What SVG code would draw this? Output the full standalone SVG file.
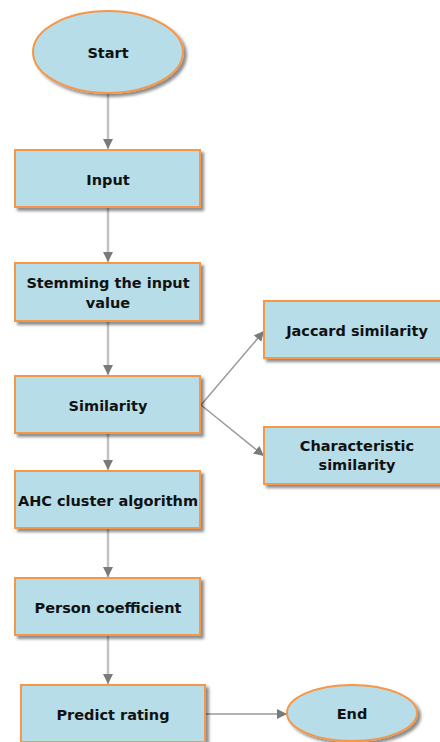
<svg xmlns="http://www.w3.org/2000/svg" width="440" height="742" viewBox="0 0 440 742">
<style>
.n{fill:#b7dde8;stroke:#f79646;stroke-width:2;filter:url(#sh)}
.t{font-family:"DejaVu Sans",Verdana,sans-serif;font-weight:bold;font-size:14.5px;fill:#111;text-anchor:middle;dominant-baseline:central}
.v{stroke:#c3c3c3;stroke-width:2.5;fill:none}
.d{stroke:#9a9a9a;stroke-width:1.5;fill:none}
</style>
<defs>
<filter id="sh" x="-20%" y="-20%" width="150%" height="150%">
<feDropShadow dx="3" dy="3" stdDeviation="1.5" flood-color="#000" flood-opacity="0.45"/>
</filter>
<marker id="ah" viewBox="0 0 10 10" refX="10" refY="5" markerWidth="10" markerHeight="10" markerUnits="userSpaceOnUse" orient="auto">
<path d="M0,0 L10,5 L0,10 z" fill="#7a7a7a"/>
</marker>
</defs>
<g id="connectors">
<line class="v" x1="108" y1="93" x2="108" y2="149" marker-end="url(#ah)"/>
<line class="v" x1="108" y1="207" x2="108" y2="262" marker-end="url(#ah)"/>
<line class="v" x1="108" y1="321" x2="108" y2="375" marker-end="url(#ah)"/>
<line class="v" x1="108" y1="433" x2="108" y2="470" marker-end="url(#ah)"/>
<line class="v" x1="108" y1="528" x2="108" y2="577" marker-end="url(#ah)"/>
<line class="v" x1="108" y1="635" x2="108" y2="684" marker-end="url(#ah)"/>
<line class="d" x1="201" y1="405" x2="264" y2="331" marker-end="url(#ah)"/>
<line class="d" x1="201" y1="405" x2="264" y2="456" marker-end="url(#ah)"/>
<line class="d" x1="205" y1="714" x2="287" y2="714" marker-end="url(#ah)"/>
</g>
<g id="start"><ellipse class="n" cx="108" cy="52" rx="75" ry="41"/><text class="t" x="108" y="53">Start</text></g>
<g id="input"><rect class="n" x="15" y="150" width="185" height="57"/><text class="t" x="108" y="180">Input</text></g>
<g id="stemming"><rect class="n" x="15" y="263" width="185" height="58"/><text class="t" x="108" y="283">Stemming the input</text><text class="t" x="108" y="303">value</text></g>
<g id="similarity"><rect class="n" x="15" y="376" width="185" height="57"/><text class="t" x="108" y="406">Similarity</text></g>
<g id="ahc"><rect class="n" x="15" y="471" width="185" height="57"/><text class="t" x="108" y="501">AHC cluster algorithm</text></g>
<g id="person"><rect class="n" x="15" y="578" width="185" height="57"/><text class="t" x="108" y="608">Person coefficient</text></g>
<g id="predict"><rect class="n" x="21" y="685" width="184" height="57"/><text class="t" x="113" y="715">Predict rating</text></g>
<g id="jaccard"><rect class="n" x="264" y="301" width="186" height="57"/><text class="t" x="357" y="331">Jaccard similarity</text></g>
<g id="characteristic"><rect class="n" x="264" y="427" width="186" height="57"/><text class="t" x="357" y="446">Characteristic</text><text class="t" x="357" y="465">similarity</text></g>
<g id="end"><ellipse class="n" cx="352" cy="713" rx="65" ry="28"/><text class="t" x="352" y="714">End</text></g>
</svg>
